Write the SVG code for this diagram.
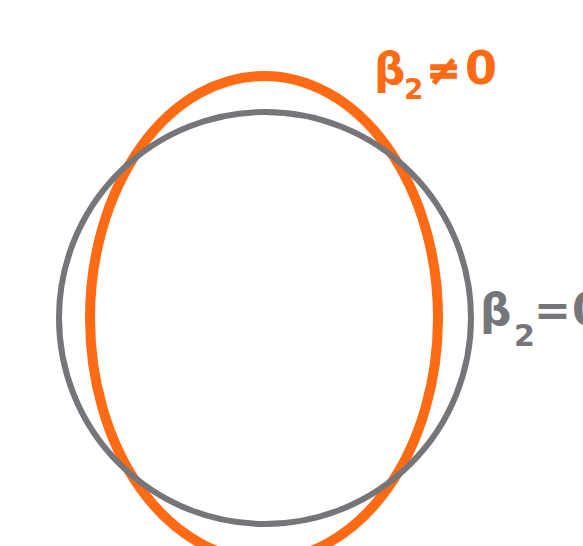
<svg xmlns="http://www.w3.org/2000/svg" width="583" height="546" viewBox="0 0 583 546">
<style>
.lbl{font-family:"DejaVu Sans","Verdana",sans-serif;font-weight:bold;}
.or{fill:#FF6A14;}
.gr{fill:#76767A;}
</style>
<rect width="583" height="546" fill="#FFFFFF"/>
<g id="shape-ellipse">
<ellipse cx="264" cy="318" rx="174" ry="242" fill="none" stroke="#FF6A14" stroke-width="10"/>
</g>
<g id="shape-circle">
<circle cx="265" cy="318" r="206" fill="none" stroke="#76767A" stroke-width="6"/>
</g>
<g id="label-orange">
<text class="lbl or" font-size="44" x="374" y="84">β</text>
<text class="lbl or" font-size="28" x="404" y="99">2</text>
<text class="lbl or" font-size="40" x="427" y="84" stroke="#FF6A14" stroke-width="1.5">≠</text>
<text class="lbl or" font-size="46" x="465" y="84">0</text>
</g>
<g id="label-grey">
<text class="lbl gr" font-size="44" x="480" y="325">β</text>
<text class="lbl gr" font-size="30" x="514" y="346">2</text>
<text class="lbl gr" font-size="44" x="534" y="325">=</text>
<text class="lbl gr" font-size="44" x="572" y="325">0</text>
</g>
</svg>
